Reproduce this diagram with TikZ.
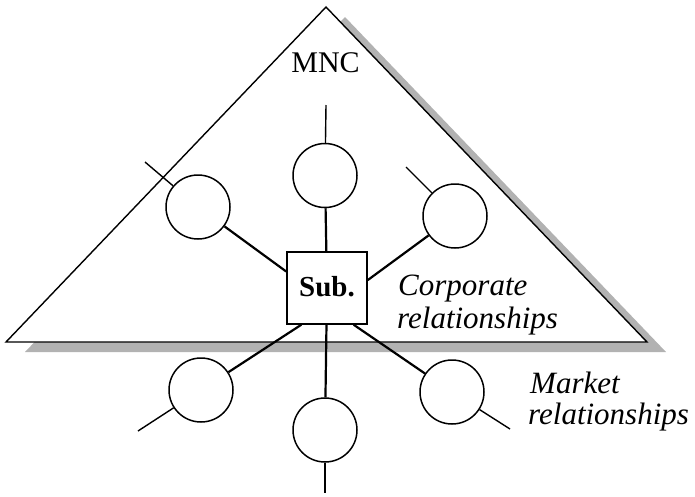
\documentclass[tikz,border=0pt]{standalone}
\usepackage{fontspec}
\setmainfont{Liberation Serif}
\definecolor{shadowgray}{HTML}{B2B2B2}
\begin{document}
\begin{tikzpicture}[x=1pt,y=-1pt,
  unit/.style={circle, draw, line width=1.5pt, minimum size=64pt, inner sep=0pt, fill=white},
  hub/.style={rectangle, draw, line width=1.5pt, minimum width=80pt, minimum height=72pt,
              inner sep=0pt, fill=white, font=\fontsize{29}{33}\selectfont\bfseries},
  tieline/.style={line width=2.2pt},
  stubline/.style={line width=1.4pt},
  slanted/.style={font=\fontsize{31}{33}\selectfont\itshape, anchor=base west, inner sep=0pt},
  edge/.style={line width=1.4pt, line join=miter}
]
\useasboundingbox (0,0) rectangle (695,496);

% MNC triangle with its drop shadow
\coordinate (left)  at (6,342);
\coordinate (apex)  at (326,7);
\coordinate (right) at (647,342);
\fill[shadowgray] ([shift={(19,10)}]left) -- ([shift={(19,10)}]apex) -- ([shift={(19,10)}]right) -- cycle;
\draw[edge, fill=white] (left) -- (apex) -- (right) -- cycle;

\node[anchor=base, inner sep=0pt, font=\fontsize{30}{33}\selectfont] (mnc) at (325.5,72) {MNC};

% subsidiary and its partners
\node[hub] (sub) at (327,288) {\raisebox{3pt}{Sub.}};

\node[unit] (top) at (325,175.5) {};
\node[unit] (ul)  at (198,207) {};
\node[unit] (ur)  at (455,216) {};
\node[unit] (ll)  at (201,390) {};
\node[unit] (lr)  at (452,392) {};
\node[unit] (bot) at (325,430) {};

% ties between the subsidiary and its partners
\draw[tieline] (top) -- (sub);
\draw[tieline] (ul) -- (sub.158);
\draw[tieline] (ur) -- (sub.11);
\draw[tieline] (ll) -- (sub.235);
\draw[tieline] (lr) -- (sub.306);
\draw[tieline] (bot) -- (sub);

% outward stubs of the partners
\coordinate (topend) at (326,105);
\coordinate (ulend)  at (145,162);
\coordinate (urend)  at (406,167);
\coordinate (llend)  at (138,431);
\coordinate (lrend)  at (510,429);
\coordinate (botend) at (325,493);
\draw[stubline] (top) -- (topend);
\draw[stubline] (ul) -- (ulend);
\draw[stubline] (ur) -- (urend);
\draw[stubline] (ll) -- (llend);
\draw[stubline] (lr) -- (lrend);
\draw[stubline] (bot) -- (botend);

% captions
\node[slanted] (corpA) at (398,295) {Corporate};
\node[slanted] (corpB) at (397,328) {relationships};
\node[slanted] (mktA)  at (530,393) {Market};
\node[slanted] (mktB)  at (528,424) {relationships};
\end{tikzpicture}
\end{document}
